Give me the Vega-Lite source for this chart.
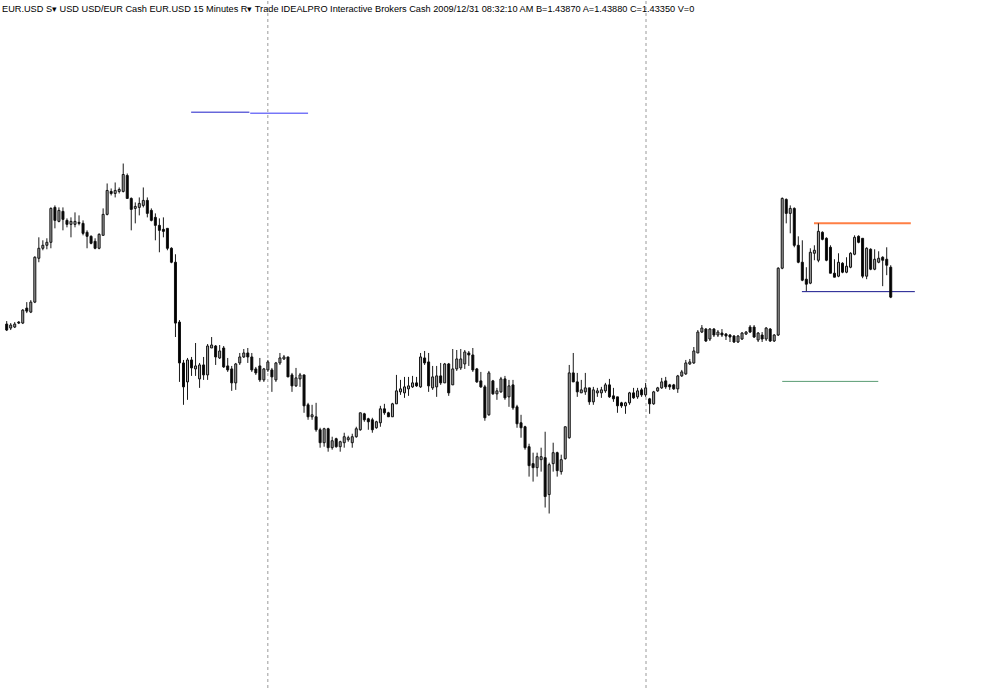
{
  "$schema": "https://vega.github.io/schema/vega-lite/v6.json",
  "autosize": {"type": "fit", "contains": "padding"},
  "width": 1000,
  "height": 690,
  "padding": 0,
  "background": "#ffffff",
  "config": {"view": {"stroke": null}},
  "title": {
    "text": "EUR.USD  S▾  USD USD/EUR Cash EUR.USD  15 Minutes  R▾  Trade  IDEALPRO  Interactive Brokers  Cash  2009/12/31  08:32:10 AM  B=1.43870  A=1.43880  C=1.43350  V=0",
    "anchor": "start",
    "frame": "group",
    "offset": -14,
    "dx": 2,
    "font": "Liberation Sans",
    "fontSize": 9.2,
    "fontWeight": "normal",
    "color": "#000000"
  },
  "datasets": {
    "candles": [
      {"i":0,"o":324,"h":321,"l":331,"c":330},
      {"i":1,"o":328,"h":323,"l":330,"c":325},
      {"i":2,"o":327,"h":322,"l":328,"c":324},
      {"i":3,"o":322,"h":321,"l":324,"c":323},
      {"i":4,"o":323,"h":309,"l":324,"c":310},
      {"i":5,"o":308,"h":302,"l":313,"c":311},
      {"i":6,"o":312,"h":300,"l":313,"c":302},
      {"i":7,"o":302,"h":256,"l":303,"c":257},
      {"i":8,"o":258,"h":237,"l":262,"c":248},
      {"i":9,"o":248,"h":240,"l":250,"c":245},
      {"i":10,"o":245,"h":238,"l":249,"c":242},
      {"i":11,"o":242,"h":207,"l":248,"c":208},
      {"i":12,"o":207,"h":205,"l":228,"c":220},
      {"i":13,"o":221,"h":207,"l":222,"c":210},
      {"i":14,"o":211,"h":207,"l":230,"c":219},
      {"i":15,"o":220,"h":218,"l":227,"c":224},
      {"i":16,"o":224,"h":217,"l":237,"c":221},
      {"i":17,"o":224,"h":212,"l":227,"c":221},
      {"i":18,"o":222,"h":215,"l":225,"c":223},
      {"i":19,"o":223,"h":220,"l":235,"c":233},
      {"i":20,"o":232,"h":230,"l":248,"c":236},
      {"i":21,"o":236,"h":235,"l":244,"c":243},
      {"i":22,"o":241,"h":238,"l":249,"c":248},
      {"i":23,"o":248,"h":233,"l":249,"c":234},
      {"i":24,"o":235,"h":208,"l":235,"c":214},
      {"i":25,"o":214,"h":183,"l":215,"c":190},
      {"i":26,"o":191,"h":188,"l":195,"c":193},
      {"i":27,"o":193,"h":182,"l":197,"c":190},
      {"i":28,"o":191,"h":187,"l":193,"c":189},
      {"i":29,"o":191,"h":163,"l":192,"c":174},
      {"i":30,"o":175,"h":173,"l":198,"c":198},
      {"i":31,"o":198,"h":197,"l":230,"c":209},
      {"i":32,"o":208,"h":202,"l":223,"c":206},
      {"i":33,"o":207,"h":197,"l":215,"c":203},
      {"i":34,"o":205,"h":187,"l":207,"c":200},
      {"i":35,"o":200,"h":197,"l":217,"c":213},
      {"i":36,"o":210,"h":208,"l":221,"c":220},
      {"i":37,"o":217,"h":213,"l":240,"c":225},
      {"i":38,"o":225,"h":218,"l":252,"c":230},
      {"i":39,"o":229,"h":217,"l":237,"c":231},
      {"i":40,"o":228,"h":228,"l":250,"c":248},
      {"i":41,"o":248,"h":247,"l":263,"c":262},
      {"i":42,"o":262,"h":254,"l":337,"c":323},
      {"i":43,"o":322,"h":320,"l":382,"c":363},
      {"i":44,"o":363,"h":360,"l":405,"c":387},
      {"i":45,"o":382,"h":358,"l":400,"c":360},
      {"i":46,"o":360,"h":357,"l":376,"c":368},
      {"i":47,"o":369,"h":343,"l":376,"c":366},
      {"i":48,"o":379,"h":363,"l":388,"c":365},
      {"i":49,"o":365,"h":357,"l":380,"c":375},
      {"i":50,"o":375,"h":344,"l":380,"c":346},
      {"i":51,"o":348,"h":337,"l":348,"c":345},
      {"i":52,"o":346,"h":345,"l":365,"c":357},
      {"i":53,"o":358,"h":345,"l":359,"c":351},
      {"i":54,"o":348,"h":346,"l":368,"c":367},
      {"i":55,"o":366,"h":358,"l":372,"c":370},
      {"i":56,"o":369,"h":366,"l":391,"c":383},
      {"i":57,"o":383,"h":363,"l":390,"c":364},
      {"i":58,"o":363,"h":353,"l":365,"c":357},
      {"i":59,"o":357,"h":349,"l":358,"c":353},
      {"i":60,"o":353,"h":348,"l":363,"c":357},
      {"i":61,"o":357,"h":353,"l":372,"c":370},
      {"i":62,"o":369,"h":367,"l":375,"c":373},
      {"i":63,"o":366,"h":358,"l":382,"c":380},
      {"i":64,"o":380,"h":368,"l":382,"c":369},
      {"i":65,"o":370,"h":360,"l":372,"c":362},
      {"i":66,"o":370,"h":368,"l":392,"c":377},
      {"i":67,"o":380,"h":362,"l":382,"c":363},
      {"i":68,"o":363,"h":353,"l":365,"c":358},
      {"i":69,"o":359,"h":355,"l":360,"c":357},
      {"i":70,"o":357,"h":357,"l":377,"c":377},
      {"i":71,"o":375,"h":373,"l":392,"c":386},
      {"i":72,"o":386,"h":368,"l":387,"c":378},
      {"i":73,"o":379,"h":373,"l":387,"c":375},
      {"i":74,"o":375,"h":375,"l":413,"c":406},
      {"i":75,"o":405,"h":403,"l":420,"c":417},
      {"i":76,"o":417,"h":405,"l":420,"c":415},
      {"i":77,"o":417,"h":403,"l":432,"c":430},
      {"i":78,"o":430,"h":428,"l":448,"c":443},
      {"i":79,"o":443,"h":428,"l":447,"c":429},
      {"i":80,"o":429,"h":428,"l":452,"c":448},
      {"i":81,"o":448,"h":437,"l":450,"c":441},
      {"i":82,"o":439,"h":438,"l":448,"c":447},
      {"i":83,"o":447,"h":441,"l":452,"c":442},
      {"i":84,"o":443,"h":433,"l":448,"c":437},
      {"i":85,"o":440,"h":436,"l":442,"c":438},
      {"i":86,"o":443,"h":434,"l":448,"c":437},
      {"i":87,"o":437,"h":427,"l":438,"c":429},
      {"i":88,"o":430,"h":413,"l":431,"c":413},
      {"i":89,"o":414,"h":413,"l":422,"c":420},
      {"i":90,"o":419,"h":418,"l":430,"c":422},
      {"i":91,"o":420,"h":418,"l":433,"c":430},
      {"i":92,"o":428,"h":421,"l":429,"c":422},
      {"i":93,"o":423,"h":406,"l":427,"c":409},
      {"i":94,"o":409,"h":404,"l":415,"c":413},
      {"i":95,"o":413,"h":412,"l":417,"c":417},
      {"i":96,"o":417,"h":403,"l":417,"c":404},
      {"i":97,"o":404,"h":375,"l":404,"c":391},
      {"i":98,"o":392,"h":380,"l":395,"c":389},
      {"i":99,"o":393,"h":377,"l":398,"c":387},
      {"i":100,"o":389,"h":377,"l":396,"c":386},
      {"i":101,"o":387,"h":376,"l":388,"c":383},
      {"i":102,"o":383,"h":377,"l":387,"c":386},
      {"i":103,"o":387,"h":353,"l":388,"c":357},
      {"i":104,"o":358,"h":351,"l":365,"c":363},
      {"i":105,"o":362,"h":353,"l":392,"c":386},
      {"i":106,"o":388,"h":366,"l":390,"c":377},
      {"i":107,"o":387,"h":366,"l":397,"c":376},
      {"i":108,"o":376,"h":363,"l":385,"c":383},
      {"i":109,"o":383,"h":363,"l":383,"c":364},
      {"i":110,"o":364,"h":363,"l":396,"c":393},
      {"i":111,"o":385,"h":349,"l":385,"c":369},
      {"i":112,"o":369,"h":350,"l":371,"c":359},
      {"i":113,"o":368,"h":349,"l":370,"c":359},
      {"i":114,"o":364,"h":350,"l":369,"c":352},
      {"i":115,"o":353,"h":351,"l":366,"c":355},
      {"i":116,"o":355,"h":348,"l":372,"c":370},
      {"i":117,"o":369,"h":368,"l":383,"c":382},
      {"i":118,"o":381,"h":372,"l":388,"c":387},
      {"i":119,"o":387,"h":385,"l":421,"c":418},
      {"i":120,"o":415,"h":371,"l":416,"c":373},
      {"i":121,"o":381,"h":380,"l":395,"c":394},
      {"i":122,"o":394,"h":388,"l":400,"c":391},
      {"i":123,"o":392,"h":377,"l":393,"c":379},
      {"i":124,"o":379,"h":376,"l":400,"c":398},
      {"i":125,"o":397,"h":380,"l":407,"c":386},
      {"i":126,"o":385,"h":380,"l":410,"c":408},
      {"i":127,"o":407,"h":405,"l":428,"c":424},
      {"i":128,"o":423,"h":415,"l":438,"c":428},
      {"i":129,"o":427,"h":426,"l":450,"c":448},
      {"i":130,"o":447,"h":444,"l":477,"c":466},
      {"i":131,"o":464,"h":453,"l":482,"c":468},
      {"i":132,"o":468,"h":453,"l":477,"c":457},
      {"i":133,"o":460,"h":448,"l":472,"c":457},
      {"i":134,"o":458,"h":432,"l":508,"c":497},
      {"i":135,"o":495,"h":463,"l":514,"c":465},
      {"i":136,"o":464,"h":443,"l":472,"c":453},
      {"i":137,"o":453,"h":452,"l":477,"c":471},
      {"i":138,"o":472,"h":455,"l":475,"c":460},
      {"i":139,"o":459,"h":427,"l":460,"c":427},
      {"i":140,"o":438,"h":365,"l":439,"c":373},
      {"i":141,"o":373,"h":353,"l":382,"c":382},
      {"i":142,"o":382,"h":373,"l":397,"c":392},
      {"i":143,"o":393,"h":380,"l":393,"c":390},
      {"i":144,"o":392,"h":373,"l":395,"c":388},
      {"i":145,"o":388,"h":388,"l":405,"c":402},
      {"i":146,"o":402,"h":387,"l":405,"c":390},
      {"i":147,"o":393,"h":388,"l":397,"c":391},
      {"i":148,"o":393,"h":387,"l":398,"c":390},
      {"i":149,"o":391,"h":383,"l":393,"c":385},
      {"i":150,"o":385,"h":379,"l":398,"c":397},
      {"i":151,"o":396,"h":388,"l":402,"c":399},
      {"i":152,"o":397,"h":397,"l":413,"c":406},
      {"i":153,"o":403,"h":402,"l":408,"c":406},
      {"i":154,"o":406,"h":402,"l":414,"c":403},
      {"i":155,"o":403,"h":392,"l":405,"c":393},
      {"i":156,"o":393,"h":388,"l":399,"c":398},
      {"i":157,"o":397,"h":388,"l":399,"c":391},
      {"i":158,"o":390,"h":388,"l":397,"c":395},
      {"i":159,"o":395,"h":383,"l":397,"c":388},
      {"i":160,"o":399,"h":398,"l":414,"c":404},
      {"i":161,"o":404,"h":391,"l":405,"c":392},
      {"i":162,"o":391,"h":387,"l":392,"c":388},
      {"i":163,"o":388,"h":378,"l":389,"c":382},
      {"i":164,"o":381,"h":377,"l":389,"c":387},
      {"i":165,"o":385,"h":384,"l":390,"c":387},
      {"i":166,"o":385,"h":384,"l":390,"c":389},
      {"i":167,"o":389,"h":375,"l":393,"c":376},
      {"i":168,"o":376,"h":370,"l":377,"c":372},
      {"i":169,"o":374,"h":360,"l":375,"c":363},
      {"i":170,"o":364,"h":359,"l":365,"c":362},
      {"i":171,"o":363,"h":347,"l":364,"c":351},
      {"i":172,"o":353,"h":330,"l":353,"c":332},
      {"i":173,"o":332,"h":325,"l":333,"c":328},
      {"i":174,"o":329,"h":328,"l":342,"c":341},
      {"i":175,"o":339,"h":328,"l":341,"c":329},
      {"i":176,"o":329,"h":328,"l":337,"c":335},
      {"i":177,"o":335,"h":330,"l":337,"c":332},
      {"i":178,"o":333,"h":329,"l":337,"c":335},
      {"i":179,"o":334,"h":333,"l":340,"c":336},
      {"i":180,"o":335,"h":334,"l":342,"c":337},
      {"i":181,"o":336,"h":335,"l":343,"c":342},
      {"i":182,"o":342,"h":335,"l":343,"c":336},
      {"i":183,"o":339,"h":332,"l":340,"c":333},
      {"i":184,"o":334,"h":331,"l":335,"c":332},
      {"i":185,"o":327,"h":325,"l":333,"c":332},
      {"i":186,"o":327,"h":325,"l":338,"c":337},
      {"i":187,"o":340,"h":332,"l":342,"c":333},
      {"i":188,"o":335,"h":332,"l":342,"c":339},
      {"i":189,"o":339,"h":327,"l":341,"c":328},
      {"i":190,"o":329,"h":328,"l":342,"c":341},
      {"i":191,"o":341,"h":334,"l":342,"c":335},
      {"i":192,"o":335,"h":267,"l":336,"c":268},
      {"i":193,"o":268,"h":197,"l":269,"c":198},
      {"i":194,"o":199,"h":198,"l":223,"c":213},
      {"i":195,"o":213,"h":205,"l":233,"c":208},
      {"i":196,"o":208,"h":207,"l":247,"c":245},
      {"i":197,"o":245,"h":236,"l":263,"c":262},
      {"i":198,"o":262,"h":240,"l":281,"c":280},
      {"i":199,"o":279,"h":267,"l":291,"c":284},
      {"i":200,"o":283,"h":248,"l":284,"c":252},
      {"i":201,"o":253,"h":245,"l":260,"c":250},
      {"i":202,"o":260,"h":223,"l":262,"c":231},
      {"i":203,"o":232,"h":231,"l":240,"c":239},
      {"i":204,"o":238,"h":237,"l":261,"c":260},
      {"i":205,"o":247,"h":245,"l":273,"c":273},
      {"i":206,"o":273,"h":259,"l":277,"c":277},
      {"i":207,"o":276,"h":253,"l":277,"c":262},
      {"i":208,"o":263,"h":262,"l":273,"c":272},
      {"i":209,"o":272,"h":257,"l":273,"c":266},
      {"i":210,"o":267,"h":252,"l":268,"c":253},
      {"i":211,"o":254,"h":235,"l":255,"c":237},
      {"i":212,"o":236,"h":235,"l":243,"c":242},
      {"i":213,"o":238,"h":238,"l":278,"c":276},
      {"i":214,"o":276,"h":247,"l":279,"c":248},
      {"i":215,"o":249,"h":248,"l":270,"c":269},
      {"i":216,"o":269,"h":249,"l":270,"c":259},
      {"i":217,"o":262,"h":251,"l":263,"c":258},
      {"i":218,"o":257,"h":256,"l":286,"c":260},
      {"i":219,"o":259,"h":247,"l":275,"c":265},
      {"i":220,"o":267,"h":265,"l":298,"c":297}
    ],
    "levels": [
      {"name": "blue dark", "x1": 45.9, "x2": 60.4, "y": 111.5},
      {"name": "blue", "x1": 60.6, "x2": 75.0, "y": 112.5},
      {"name": "support", "x1": 197.9, "x2": 226.0, "y": 291.5},
      {"name": "green", "x1": 193.0, "x2": 216.9, "y": 381.5}
    ],
    "resistance": [
      {"name": "orange", "x1": 200.9, "x2": 225.0, "y": 223}
    ],
    "sessions": [
      {"i": 64.99},
      {"i": 159.1}
    ]
  },
  "layer": [
    {
      "data": {"name": "sessions"},
      "mark": {"type": "rule", "stroke": "#9a9a9a", "strokeWidth": 1, "strokeDash": [3, 3]},
      "encoding": {
        "x": {"field": "i", "type": "quantitative", "scale": {"domain": [-0.42, 245.95], "nice": false, "zero": false}, "axis": null}
      }
    },
    {
      "data": {"name": "levels"},
      "mark": {"type": "rule", "strokeWidth": 1},
      "encoding": {
        "x": {"field": "x1", "type": "quantitative", "axis": null},
        "x2": {"field": "x2"},
        "y": {"field": "y", "type": "quantitative", "scale": {"domain": [0, 690], "reverse": true, "nice": false, "zero": false}, "axis": null},
        "color": {
          "field": "name", "type": "nominal", "legend": null,
          "scale": {"domain": ["blue dark", "blue", "support", "green"], "range": ["#1e1ec8", "#3535f5", "#15158c", "#5a9c74"]}
        }
      }
    },
    {
      "data": {"name": "resistance"},
      "mark": {"type": "rule", "strokeWidth": 2, "stroke": "#ff7f45"},
      "encoding": {
        "x": {"field": "x1", "type": "quantitative", "axis": null},
        "x2": {"field": "x2"},
        "y": {"field": "y", "type": "quantitative", "axis": null}
      }
    },
    {
      "data": {"name": "candles"},
      "mark": {"type": "rule", "stroke": "#1a1a1a", "strokeWidth": 1},
      "encoding": {
        "x": {"field": "i", "type": "quantitative", "axis": null},
        "y": {"field": "h", "type": "quantitative", "axis": null},
        "y2": {"field": "l"}
      }
    },
    {
      "data": {"name": "candles"},
      "mark": {"type": "bar", "size": 2, "stroke": "#111111", "strokeWidth": 1},
      "encoding": {
        "x": {"field": "i", "type": "quantitative", "axis": null},
        "y": {"field": "o", "type": "quantitative", "axis": null},
        "y2": {"field": "c"},
        "fill": {"condition": {"test": "datum.c < datum.o", "value": "#a6a6a6"}, "value": "#000000"}
      }
    }
  ]
}
